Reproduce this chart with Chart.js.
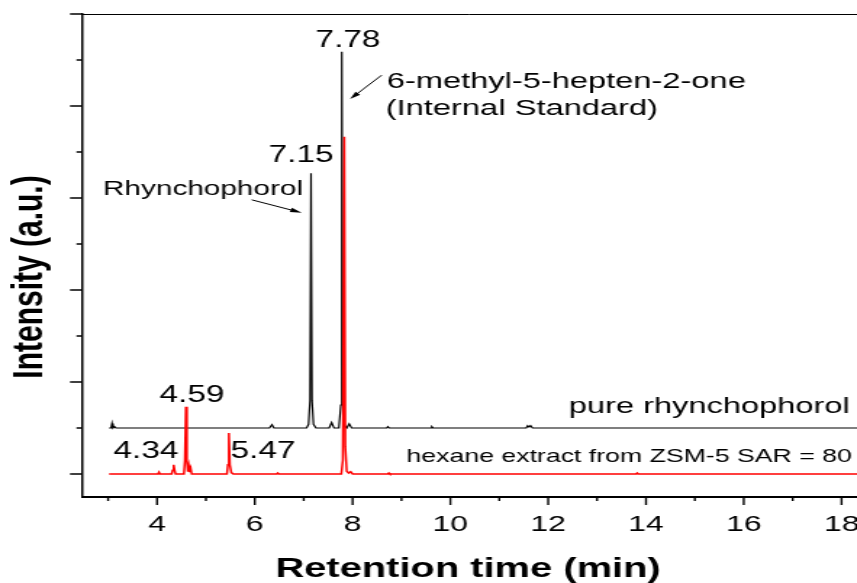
<!DOCTYPE html>
<html lang="en">
<head>
  <meta charset="UTF-8">
  <title>GC chromatogram - rhynchophorol</title>
  <script src="https://cdn.jsdelivr.net/npm/chart.js"></script>
  <style>
    html, body {
      margin: 0;
      padding: 0;
      background: #fff;
      overflow: hidden;
    }

    /* the figure is drawn narrow and widened, like the exported plot */
    #chromatogram {
      display: block;
      transform: scaleX(1.45);
      transform-origin: 0 0;
    }
  </style>
</head>
<body>

  <canvas id="chromatogram" width="591" height="583"></canvas>

  <script>
    // pure rhynchophorol trace (offset by one unit)
    const blackTime = [
      3.02, 3.06, 3.08, 3.10, 3.13, 3.16,
      6.30, 6.35, 6.39,
      7.06, 7.10, 7.13, 7.15, 7.17, 7.20, 7.25,
      7.52, 7.57, 7.62,
      7.72, 7.76, 7.78, 7.80, 7.83, 7.88, 7.93, 7.98,
      8.70, 8.72, 8.75,
      9.60, 9.62, 9.65,
      11.55, 11.58, 11.61, 11.64, 11.68,
      18.35
    ];
    const blackSignal = [
      1.0, 1.0, 1.1, 1.0, 1.03, 1.0,
      1.0, 1.07, 1.0,
      1.0, 1.08, 1.6, 6.54, 1.6, 1.08, 1.0,
      1.0, 1.12, 1.0,
      1.0, 1.5, 9.18, 1.6, 1.05, 1.0, 1.09, 1.0,
      1.0, 1.03, 1.0,
      1.0, 1.03, 1.0,
      1.0, 1.05, 1.02, 1.05, 1.0,
      1.0
    ];

    // hexane extract from ZSM-5 SAR = 80
    const redTime = [
      3.02, 4.02, 4.04, 4.06,
      4.30, 4.32, 4.34, 4.36, 4.38,
      4.55, 4.57, 4.59, 4.61, 4.63, 4.65, 4.67, 4.69, 4.71,
      5.43, 5.45, 5.47, 5.49, 5.52, 5.56,
      6.45, 6.47, 6.49,
      7.77, 7.80, 7.83, 7.85, 7.88, 7.92, 7.96, 8.00,
      8.72, 8.74, 8.76,
      13.80, 13.82, 13.84,
      18.35
    ];
    const redSignal = [
      0, 0, 0.04, 0,
      0, 0.08, 0.2, 0.08, 0,
      0, 0.3, 1.46, 0.3, 0.05, 0.18, 0.04, 0.12, 0,
      0, 0.2, 0.89, 0.2, 0.03, 0,
      0, 0.02, 0,
      0, 0.3, 7.33, 0.6, 0.06, 0.02, 0.05, 0,
      0, 0.02, 0,
      0, 0.02, 0,
      0
    ];

    const timeRange = [2.466, 18.315];
    const intensityRange = [-0.5, 10];

    const FONT = 'Liberation Sans, Arial, Helvetica, sans-serif';
    Chart.defaults.font.family = FONT;
    Chart.defaults.color = '#000';

    const toPoints = (xs, ys) => xs.map((t, i) => ({ x: t, y: ys[i] }));

    function arrow(ctx, x1, y1, x2, y2) {
      const ang = Math.atan2(y2 - y1, x2 - x1);
      const head = 8;
      ctx.beginPath();
      ctx.moveTo(x1, y1);
      ctx.lineTo(x2 - Math.cos(ang) * head * 0.6, y2 - Math.sin(ang) * head * 0.6);
      ctx.stroke();
      ctx.beginPath();
      ctx.moveTo(x2, y2);
      ctx.lineTo(x2 - head * Math.cos(ang) + 2.2 * Math.sin(ang), y2 - head * Math.sin(ang) - 2.2 * Math.cos(ang));
      ctx.lineTo(x2 - head * Math.cos(ang) - 2.2 * Math.sin(ang), y2 - head * Math.sin(ang) + 2.2 * Math.cos(ang));
      ctx.closePath();
      ctx.fill();
    }

    // frame, tick marks, axis titles and peak annotations
    const chromatogramDecor = {
      id: 'chromatogramDecor',
      afterDraw(chart) {
        const { ctx, chartArea: area, scales: { x, y } } = chart;
        ctx.save();
        ctx.strokeStyle = '#000';
        ctx.fillStyle = '#000';

        ctx.lineWidth = 1;
        ctx.beginPath();
        ctx.moveTo(area.left, area.top + 0.5);
        ctx.lineTo(area.right, area.top + 0.5);
        ctx.stroke();

        // outward ticks, long ones on even values
        ctx.lineWidth = 1.4;
        for (let v = 3; v <= 18; v++) {
          const px = x.getPixelForValue(v);
          const len = v % 2 === 0 ? 8 : 4;
          ctx.beginPath();
          ctx.moveTo(px, area.bottom);
          ctx.lineTo(px, area.bottom + len);
          ctx.stroke();
        }
        ctx.lineWidth = 1.5;
        for (let v = 0; v <= 10; v++) {
          const py = y.getPixelForValue(v);
          const len = v % 2 === 0 ? 8.3 : 3.8;
          ctx.beginPath();
          ctx.moveTo(area.left, py);
          ctx.lineTo(area.left - len, py);
          ctx.stroke();
        }

        // axis titles
        ctx.font = 'bold 27.5px ' + FONT;
        ctx.textAlign = 'center';
        ctx.textBaseline = 'alphabetic';
        ctx.fillText('Retention time (min)', 322.8, 577);

        ctx.save();
        ctx.translate(28.8, 277);
        ctx.rotate(-Math.PI / 2);
        ctx.font = 'bold 30px ' + FONT;
        ctx.fillText('Intensity (a.u.)', 0, 0);
        ctx.restore();

        // peak labels, placed in data units
        const labels = [
          ['7.78', 7.906, 9.28, 23, 'center'],
          ['7.15', 6.945, 6.78, 23, 'center'],
          ['6-methyl-5-hepten-2-one', 8.70, 8.39, 22.5, 'left'],
          ['(Internal Standard)', 8.68, 7.80, 22.5, 'left'],
          ['Rhynchophorol', 2.896, 6.07, 20.5, 'left'],
          ['4.59', 4.716, 1.57, 23, 'center'],
          ['4.34', 3.775, 0.35, 23, 'center'],
          ['5.47', 6.168, 0.35, 23, 'center'],
          ['pure rhynchophorol', 18.17, 1.33, 22.5, 'right'],
          ['hexane extract from ZSM-5 SAR = 80', 18.21, 0.27, 18.4, 'right']
        ];
        labels.forEach(([text, t, v, size, align]) => {
          ctx.font = size + 'px ' + FONT;
          ctx.textAlign = align;
          ctx.fillText(text, x.getPixelForValue(t), y.getPixelForValue(v));
        });

        ctx.lineWidth = 1;
        arrow(ctx, x.getPixelForValue(5.937), y.getPixelForValue(5.96),
                   x.getPixelForValue(6.959), y.getPixelForValue(5.68));
        arrow(ctx, x.getPixelForValue(8.595), y.getPixelForValue(8.67),
                   x.getPixelForValue(7.947), y.getPixelForValue(8.15));
        ctx.restore();
      }
    };

    const ctx = document.getElementById('chromatogram').getContext('2d');

    new Chart(ctx, {
      type: 'line',
      data: {
        datasets: [{
          label: 'hexane extract from ZSM-5 SAR = 80',
          data: toPoints(redTime, redSignal),
          borderColor: '#ff0000',
          borderWidth: 1.5,
          pointRadius: 0,
          tension: 0
        }, {
          label: 'pure rhynchophorol',
          data: toPoints(blackTime, blackSignal),
          borderColor: '#000000',
          borderWidth: 1.2,
          pointRadius: 0,
          tension: 0
        }]
      },
      options: {
        responsive: false,
        animation: false,
        devicePixelRatio: 1,
        layout: {
          padding: { top: 14, left: 0, right: 0, bottom: 0 }
        },
        plugins: {
          legend: { display: false },
          tooltip: { enabled: false }
        },
        scales: {
          x: {
            type: 'linear',
            min: timeRange[0],
            max: timeRange[1],
            grid: { display: false, drawTicks: false },
            border: { display: true, color: '#000', width: 2 },
            ticks: {
              stepSize: 1,
              includeBounds: false,
              autoSkip: false,
              maxRotation: 0,
              padding: 15,
              font: { size: 22 },
              color: '#000',
              callback: v => (v % 2 === 0 ? v : '')
            },
            afterFit(scale) {
              scale.height = 86;
              scale.paddingLeft = 0;
              scale.paddingRight = 0;
            }
          },
          y: {
            type: 'linear',
            min: intensityRange[0],
            max: intensityRange[1],
            grid: { display: false, drawTicks: false },
            border: { display: true, color: '#000', width: 1.5 },
            ticks: { display: false, stepSize: 1 },
            afterFit(scale) {
              scale.width = 56.55;
            }
          }
        }
      },
      plugins: [chromatogramDecor]
    });
  </script>
</body>
</html>
